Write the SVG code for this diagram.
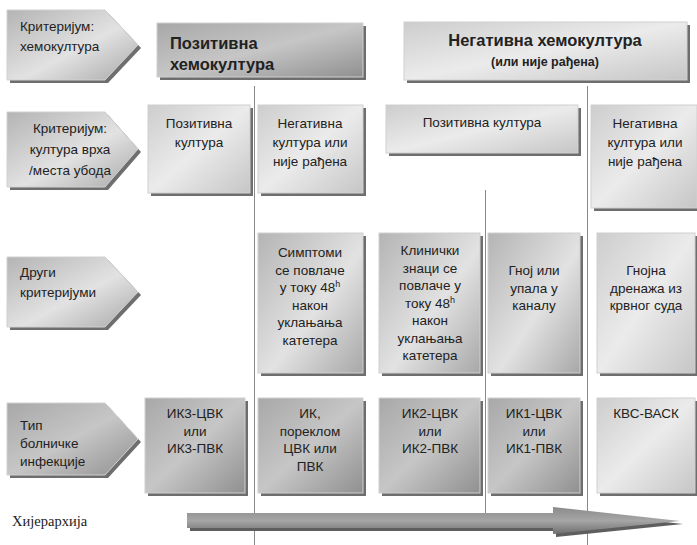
<svg xmlns="http://www.w3.org/2000/svg" width="697" height="545" viewBox="0 0 697 545">
<defs>
<linearGradient id="gDark" x1="0" y1="0" x2="1" y2="1">
<stop offset="0" stop-color="#a8a8a8"/><stop offset="0.5" stop-color="#c6c6c6"/><stop offset="1" stop-color="#909090"/>
</linearGradient>
<linearGradient id="gMid" x1="0" y1="0" x2="1" y2="1">
<stop offset="0" stop-color="#b4b4b4"/><stop offset="0.55" stop-color="#e2e2e2"/><stop offset="1" stop-color="#a8a8a8"/>
</linearGradient>
<linearGradient id="gLight" x1="0" y1="0" x2="1" y2="1">
<stop offset="0" stop-color="#cdcdcd"/><stop offset="0.5" stop-color="#ebebeb"/><stop offset="1" stop-color="#c6c6c6"/>
</linearGradient>
<linearGradient id="gArrow" x1="0" y1="0" x2="0" y2="1">
<stop offset="0" stop-color="#8a8a8a"/><stop offset="0.5" stop-color="#a6a6a6"/><stop offset="1" stop-color="#6f6f6f"/>
</linearGradient>
<style>
.sh{fill:#6e6e6e}
.bx{stroke:#d0d0d0;stroke-width:1}
.t{font-family:"Liberation Sans",Arial,sans-serif;font-size:13.5px;fill:#222}
.c{text-anchor:middle}
.b{font-weight:bold}
.vl{stroke:#8a8a8a;stroke-width:1;fill:none}
</style>
</defs>

<g id="connectors">
<line class="vl" x1="254.5" y1="86" x2="254.5" y2="545"/>
<line class="vl" x1="587.5" y1="86" x2="587.5" y2="545"/>
<line class="vl" x1="485.5" y1="190" x2="485.5" y2="517"/>
</g>

<!-- Criteria pentagons -->
<g id="crit1">
<path class="sh" d="M10,13 H108 L141,48 L108,83 H10 Z"/>
<path class="bx" fill="url(#gMid)" d="M7,10 H105 L138,45 L105,80 H7 Z"/>
<text class="t" x="20" y="31">Критеријум:</text>
<text class="t" x="20" y="51">хемокултура</text>
</g>
<g id="crit2">
<path class="sh" d="M10,115 H108 L141,152 L108,190 H10 Z"/>
<path class="bx" fill="url(#gMid)" d="M7,112 H105 L138,149 L105,187 H7 Z"/>
<text class="t c" x="70" y="133">Критеријум:</text>
<text class="t c" x="70" y="154">култура врха</text>
<text class="t c" x="70" y="175">/места убода</text>
</g>
<g id="crit3">
<path class="sh" d="M10,260 H108 L141,295 L108,330 H10 Z"/>
<path class="bx" fill="url(#gMid)" d="M7,257 H105 L138,292 L105,327 H7 Z"/>
<text class="t" x="20" y="277">Други</text>
<text class="t" x="20" y="297">критеријуми</text>
</g>
<g id="crit4">
<path class="sh" d="M10,406 H108 L141,442 L108,478 H10 Z"/>
<path class="bx" fill="url(#gDark)" d="M7,403 H105 L138,439 L105,475 H7 Z"/>
<text class="t" x="20" y="430">Тип</text>
<text class="t" x="20" y="448">болничке</text>
<text class="t" x="20" y="466">инфекције</text>
</g>

<!-- Headers -->
<g id="hdr-pos">
<rect class="sh" x="160" y="26" width="206" height="54"/>
<rect class="bx" fill="url(#gDark)" x="157" y="23" width="206" height="54"/>
<text class="t b" style="font-size:16.5px" x="170" y="49">Позитивна</text>
<text class="t b" style="font-size:16.5px" x="170" y="70">хемокултура</text>
</g>
<g id="hdr-neg">
<rect class="sh" x="407" y="25" width="283" height="58"/>
<rect class="bx" fill="url(#gLight)" x="404" y="22" width="283" height="58"/>
<text class="t b c" style="font-size:16.5px" x="545" y="46">Негативна хемокултура</text>
<text class="t b c" style="font-size:12.5px" x="545" y="66">(или није рађена)</text>
</g>

<!-- Row 2 -->
<g id="r2-pos">
<rect class="sh" x="151" y="108" width="102" height="88"/>
<rect class="bx" fill="url(#gLight)" x="148" y="105" width="102" height="88"/>
<text class="t c" x="199" y="128">Позитивна</text>
<text class="t c" x="199" y="147">култура</text>
</g>
<g id="r2-neg">
<rect class="sh" x="261" y="108" width="105" height="88"/>
<rect class="bx" fill="url(#gLight)" x="258" y="105" width="105" height="88"/>
<text class="t c" x="310" y="128">Негативна</text>
<text class="t c" x="310" y="147">култура или</text>
<text class="t c" x="310" y="166">није рађена</text>
</g>
<g id="r2-pos2">
<rect class="sh" x="389" y="108" width="192" height="48"/>
<rect class="bx" fill="url(#gLight)" x="386" y="105" width="192" height="48"/>
<text class="t c" x="482" y="127">Позитивна култура</text>
</g>
<g id="r2-neg2">
<rect class="sh" x="594" y="108" width="106" height="103"/>
<rect class="bx" fill="url(#gLight)" x="591" y="105" width="106" height="103"/>
<text class="t c" x="645" y="128">Негативна</text>
<text class="t c" x="645" y="147">култура или</text>
<text class="t c" x="645" y="166">није рађена</text>
</g>

<!-- Row 3 -->
<g id="r3-a">
<rect class="sh" x="261" y="236" width="105" height="140"/>
<rect class="bx" fill="url(#gMid)" x="258" y="233" width="105" height="140"/>
<text class="t c" x="310" y="257">Симптоми</text>
<text class="t c" x="310" y="274.5">се повлаче</text>
<text class="t c" x="310" y="292">у току 48<tspan dy="-5" style="font-size:9px">h</tspan></text>
<text class="t c" x="310" y="309.5">након</text>
<text class="t c" x="310" y="327">уклањања</text>
<text class="t c" x="310" y="344.5">катетера</text>
</g>
<g id="r3-b">
<rect class="sh" x="382" y="236" width="101" height="140"/>
<rect class="bx" fill="url(#gMid)" x="379" y="233" width="101" height="140"/>
<text class="t c" x="430" y="255">Клинички</text>
<text class="t c" x="430" y="272.5">знаци се</text>
<text class="t c" x="430" y="290">повлаче у</text>
<text class="t c" x="430" y="307.5">току 48<tspan dy="-5" style="font-size:9px">h</tspan></text>
<text class="t c" x="430" y="325">након</text>
<text class="t c" x="430" y="342.5">уклањања</text>
<text class="t c" x="430" y="360">катетера</text>
</g>
<g id="r3-c">
<rect class="sh" x="491" y="236" width="92" height="140"/>
<rect class="bx" fill="url(#gMid)" x="488" y="233" width="92" height="140"/>
<text class="t c" x="534" y="275">Гној или</text>
<text class="t c" x="534" y="292.5">упала у</text>
<text class="t c" x="534" y="310">каналу</text>
</g>
<g id="r3-d">
<rect class="sh" x="600" y="236" width="98" height="140"/>
<rect class="bx" fill="url(#gLight)" x="597" y="233" width="98" height="140"/>
<text class="t c" x="646" y="275">Гнојна</text>
<text class="t c" x="646" y="292.5">дренажа из</text>
<text class="t c" x="646" y="310">крвног суда</text>
</g>

<!-- Row 4 -->
<g id="r4-a">
<rect class="sh" x="148" y="401" width="100" height="95"/>
<rect class="bx" fill="url(#gDark)" x="145" y="398" width="100" height="95"/>
<text class="t c" x="195" y="418">ИК3-ЦВК</text>
<text class="t c" x="195" y="435.5">или</text>
<text class="t c" x="195" y="453">ИК3-ПВК</text>
</g>
<g id="r4-b">
<rect class="sh" x="261" y="401" width="105" height="95"/>
<rect class="bx" fill="url(#gDark)" x="258" y="398" width="105" height="95"/>
<text class="t c" x="310" y="418">ИК,</text>
<text class="t c" x="310" y="435.5">пореклом</text>
<text class="t c" x="310" y="453">ЦВК или</text>
<text class="t c" x="310" y="470.5">ПВК</text>
</g>
<g id="r4-c">
<rect class="sh" x="382" y="401" width="101" height="95"/>
<rect class="bx" fill="url(#gDark)" x="379" y="398" width="101" height="95"/>
<text class="t c" x="430" y="418">ИК2-ЦВК</text>
<text class="t c" x="430" y="435.5">или</text>
<text class="t c" x="430" y="453">ИК2-ПВК</text>
</g>
<g id="r4-d">
<rect class="sh" x="491" y="401" width="92" height="95"/>
<rect class="bx" fill="url(#gDark)" x="488" y="398" width="92" height="95"/>
<text class="t c" x="534" y="418">ИК1-ЦВК</text>
<text class="t c" x="534" y="435.5">или</text>
<text class="t c" x="534" y="453">ИК1-ПВК</text>
</g>
<g id="r4-e">
<rect class="sh" x="600" y="401" width="98" height="95"/>
<rect class="bx" fill="url(#gLight)" x="597" y="398" width="98" height="95"/>
<text class="t c" x="646" y="418">КВС-ВАСК</text>
</g>

<!-- Hierarchy arrow -->
<g id="hierarchy">
<path fill="#5e5e5e" d="M190,516 H556 V510 L683,524 L556,537 V531 H190 Z"/>
<path fill="url(#gArrow)" d="M187,513 H553 V507 L680,521 L553,534 V528 H187 Z"/>
<text x="12" y="526" style="font-family:'Liberation Serif','Times New Roman',serif;font-size:14.5px;fill:#222">Хијерархија</text>
</g>
</svg>
